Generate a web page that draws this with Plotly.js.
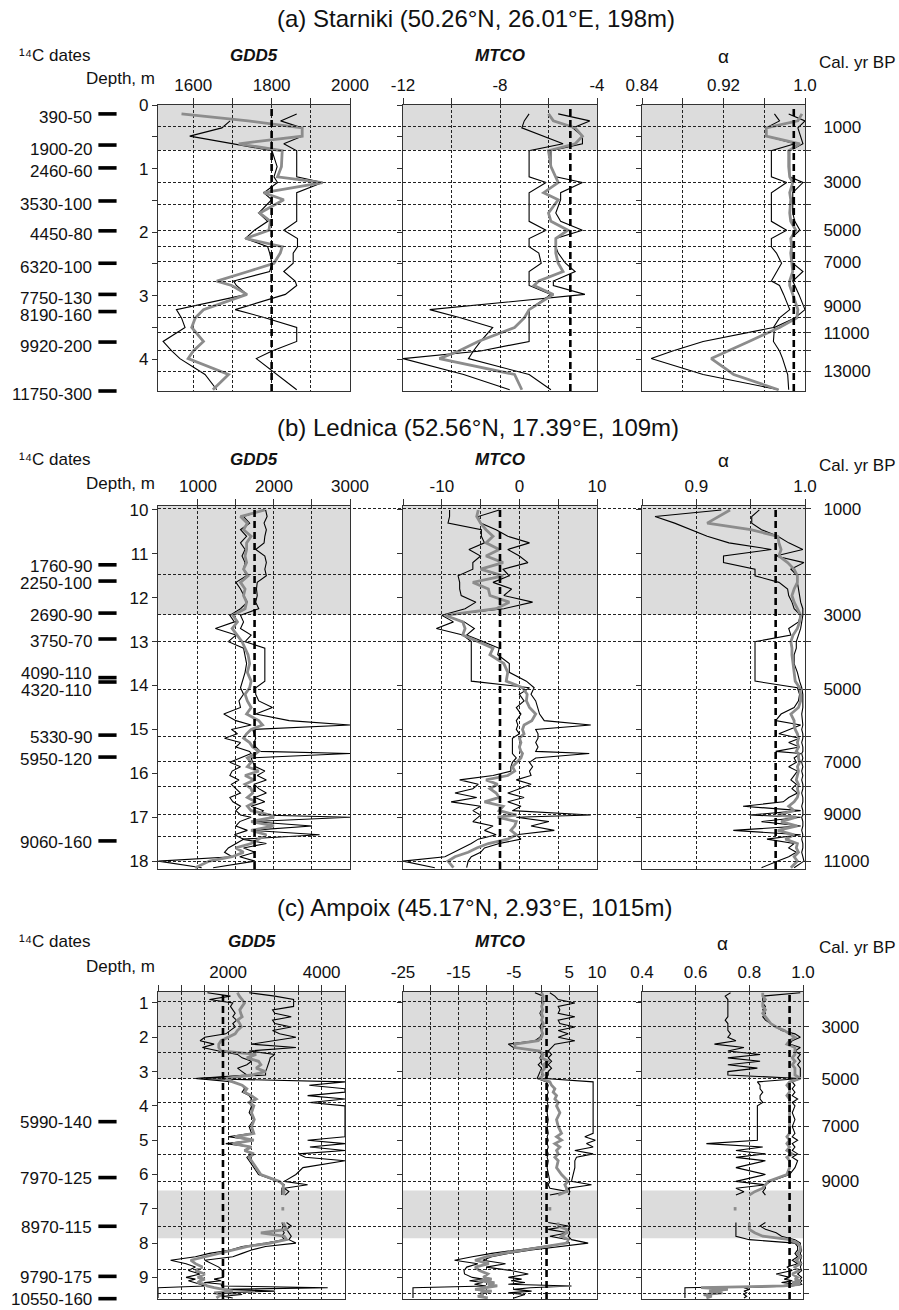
<!DOCTYPE html>
<html><head><meta charset="utf-8">
<script src="https://cdn.plot.ly/plotly-3.0.1.min.js"></script>
<style>html,body{margin:0;padding:0;background:#fff}#chart{width:899px;height:1310px}</style>
</head><body><div id="chart"></div>
<script>
// ================= DATA =================
// ---- (a) Starniki ----
const aDepth = [0.14,0.25,0.36,0.49,0.61,0.72,0.97,1.13,1.22,1.38,1.49,1.7,1.83,1.97,2.1,2.23,2.33,2.49,2.62,2.77,2.84,2.98,3.22,3.35,3.5,3.72,3.87,3.99,4.24,4.48];
const aGDD5_1 = [1864,1823,1878,1878,1831,1864,1864,1864,1930,1864,1864,1864,1864,1831,1866,1866,1855,1855,1831,1860,1864,1835,1707,1785,1864,1864,1801,1761,1812,1864];
const aGDD5_2 = [null,1694,1673,1591,1700,1801,1814,1806,1815,1780,1800,1767,1790,1756,1733,1790,1795,1801,1795,1703,1710,1737,1557,1570,1579,1523,1545,1566,1630,1660];
const aGDD5_m = [1570,1740,1878,1878,1716,1827,1825,1815,1930,1780,1831,1770,1797,1793,1733,1827,1822,1806,1740,1660,1698,1737,1626,1605,1596,1626,1600,1587,1690,1650];
const aMTCO_1 = [-5.6,-4.3,-5.0,-4.6,-4.6,-5.9,-5.9,-5.7,-4.6,-5.5,-5.5,-5.7,-5.5,-4.6,-5.7,-5.7,-5.6,-5.3,-4.9,-5.8,-5.8,-4.5,-10.9,-9.6,-8.3,-8.8,-9.1,-9.3,-6.8,-5.9];
const aMTCO_2 = [-6.8,-7.0,-7.1,-6.2,-5.4,-6.8,-6.8,-6.8,-6.1,-6.8,-6.8,-6.8,-6.8,-6.1,-6.8,-6.8,-6.4,-6.3,-6.8,-6.8,-6.8,-5.9,-6.8,-6.8,-6.8,-6.8,-8.8,-12.0,-9.5,-7.6];
const aMTCO_m = [-6.0,-5.8,-4.9,-4.6,-4.9,-6.0,-5.9,-5.7,-5.6,-6.2,-5.6,-6.0,-5.9,-5.2,-5.7,-5.7,-5.7,-5.6,-5.4,-6.4,-6.6,-5.8,-6.8,-7.0,-7.4,-8.9,-9.7,-10.5,-7.4,-7.1];
const aAlpha_1 = [0.984,1.0,0.993,0.996,0.998,0.985,0.985,0.985,0.998,0.988,0.988,0.988,0.99,0.995,0.986,0.987,0.987,0.988,0.998,0.988,0.99,0.994,1.0,0.99,0.97,0.969,0.975,0.978,0.983,0.984];
const aAlpha_2 = [0.97,0.975,0.962,0.962,0.99,0.967,0.967,0.967,0.982,0.967,0.967,0.967,0.967,0.982,0.967,0.967,0.972,0.977,0.972,0.967,0.975,0.979,0.985,0.975,0.969,0.90,0.87,0.849,0.90,0.974];
const aAlpha_m = [0.997,0.993,0.962,0.962,0.995,0.984,0.984,0.985,0.988,0.985,0.986,0.985,0.986,0.991,0.986,0.987,0.986,0.987,0.988,0.985,0.985,0.988,0.993,0.992,0.975,0.945,0.925,0.908,0.93,0.974];
const aModern = [1800, -5.1, 0.989];
const aBands = [[0, 0.71]];
const aDates = ['390-50','1900-20','2460-60','3530-100','4450-80','6320-100','7750-130','8190-160','9920-200','11750-300'];
const aDateDepth = [0.14,0.63,0.99,1.51,1.98,2.49,2.98,3.25,3.73,4.5];
const aAges = [1000,2000,3000,4000,5000,6000,7000,8000,9000,10000,11000,12000,13000];
const aAgeDepth = [0.346,0.712,1.22,1.565,1.97,2.23,2.47,2.775,3.157,3.35,3.586,3.86,4.19];
const aDepthTicks = [0,1,2,3,4];
const aDepthLabels = ['0','1','2','3','4'];
const aDepthMinor = [0.5,1.5,2.5,3.5];
const aGDD5Ticks = [1600,1800,2000];
const aGDD5Labels = ['1600','1800','2000'];
const aGDD5Minor = [1700,1900];
const aMTCOTicks = [-12,-8,-4];
const aMTCOLabels = ['-12','-8','-4'];
const aMTCOMinor = [-10,-6];
const aAlphaTicks = [0.84,0.92,1.0];
const aAlphaLabels = ['0.84','0.92','1.0'];
const aAlphaMinor = [0.88,0.96];

// ---- (b) Lednica ----
const bDepth = [10.0,10.15,10.3,10.45,10.6,10.75,10.9,11.05,11.2,11.35,11.5,11.65,11.8,11.95,12.1,12.25,12.4,12.55,12.7,12.85,13.0,13.15,13.3,13.5,13.7,13.9,14.05,14.2,14.35,14.5,14.65,14.8,14.9,15.0,15.1,15.2,15.3,15.4,15.5,15.55,15.65,15.75,15.85,15.95,16.05,16.15,16.25,16.35,16.45,16.55,16.65,16.75,16.85,16.95,17.0,17.1,17.2,17.3,17.4,17.5,17.6,17.7,17.8,17.9,18.0,18.15];
const bGDD5_1 = [1890,1910,1870,1900,1880,1870,1760,1880,1900,1880, 1900,1780,1770,1780,1760,1800,1560,1600,1560,1700, 1620,1880,1880,1880,1880,1880,1760,1760,1800,1980, 1760,2200,3000,1720,1740,1760,1740,1760,1820,3000, 1700,1720,1760,1880,1780,1900,1740,1800,1900,1750, 1880,1700,1860,1800,3000,1720,2500,1700,2600,1580, 1900,1600,1750,1550,1750,1200];
const bGDD5_2 = [1870,1600,1680,1560,1640,1560,1620,1580,1620,1600, 1640,1500,1560,1600,1650,1560,1420,1480,1230,1500, 1400,1600,1620,1640,1620,1580,1560,1600,1540,1560, 1340,1500,1700,1440,1520,1350,1560,1500,1680,1700, 1550,1420,1560,1450,1420,1540,1440,1500,1560,1420, 1460,1560,1500,1560,1700,1550,1500,1650,1480,1600, 1500,1400,1350,1450,480,1050];
const bGDD5_m = [1880,1560,1650,1600,1700,1640,1640,1620,1640,1600, 1660,1560,1620,1600,1640,1620,1460,1520,1450,1520, 1580,1620,1660,1680,1650,1700,1680,1620,1650,1700, 1640,1800,1850,1700,1640,1600,1680,1720,1800,1760, 1650,1700,1650,1800,1620,1740,1620,1700,1720,1650, 1760,1650,1700,1950,2000,1700,2000,1700,1900,1800, 1700,1500,1600,1450,1150,965];
const bMTCO_1 = [-2.6,-5.3,-5.0,-3.0,-1.5,1.3,-1.5,0.0,1.1,-2.1, -1.3,-3.4,-1.0,-2.0,1.7,-2.0,-9.6,-7.1,-5.8,-6.8, -4.7,-2.6,-2.8,-1.3,-1.3,0.9,1.9,1.5,2.1,2.4, 2.6,3.2,9.2,2.1,2.4,2.4,2.1,2.4,2.1,9.0, 2.1,1.3,1.7,1.3,1.5,-0.4,1.5,0.0,-1.5,0.6, -1.5,0.2,-0.9,9.2,-0.4,3.8,1.5,4.5,-0.4,0.2, -2.6,-4.5,-5.0,-6.2,-6.6,-6.8];
const bMTCO_2 = [-9.0,-9.0,-9.2,-4.9,-4.9,-4.5,-6.5,-5.0,-6.0,-6.0, -7.9,-7.7,-7.7,-7.5,-5.6,-7.0,-10.0,-8.5,-10.7,-7.3, -6.2,-6.2,-6.2,-6.2,-6.2,-6.2,1.3,0.0,0.6,-0.4, 0.2,-0.4,-0.2,-0.4,0.0,-0.9,-0.9,-0.9,-0.9,-0.9, -0.4,-0.9,-1.1,-1.1,-3.4,-7.7,-5.3,-6.0,-8.3,-5.5, -8.8,-5.0,-6.0,-5.0,-5.3,-6.0,-3.4,-4.5,-3.0,-5.3, -6.2,-7.3,-8.3,-9.6,-15.0,-10.9];
const bMTCO_m = [-5.3,-5.5,-5.0,-4.3,-3.4,-4.3,-2.6,-4.3,-2.1,-5.0, -2.1,-6.0,-4.0,-3.8,-1.3,-3.0,-9.6,-7.3,-7.0,-7.3, -5.3,-3.4,-3.8,-2.0,-1.5,-1.7,0.4,1.0,0.9,1.3, 2.1,1.6,0.6,0.4,0.6,0.0,0.2,0.0,0.2,0.4, 0.2,-0.4,-0.9,-0.6,-1.5,-4.3,-2.8,-3.8,-3.0,-2.6, -4.5,-2.1,-2.6,-0.4,-2.8,-0.4,-0.6,-1.1,-0.4,-1.5, -4.0,-5.5,-6.6,-8.3,-9.2,-8.5];
const bAlpha_1 = [0.958,0.951,0.951,0.960,0.975,0.985,0.998,0.973,0.999,0.987, 0.993,0.993,0.994,0.995,0.996,0.998,0.998,0.997,0.996,0.994, 0.992,0.992,0.990,0.990,0.993,0.995,0.997,0.998,0.998,0.998, 0.997,0.998,0.998,0.997,0.998,0.998,0.997,0.998,0.998,0.997, 0.998,0.997,0.998,0.997,0.998,0.997,0.998,0.998,0.997,0.998, 0.998,0.997,0.998,0.998,0.997,0.998,0.998,0.997,0.998,0.997, 0.998,0.998,0.997,0.998,0.999,0.990];
const bAlpha_2 = [0.923,0.862,0.880,0.895,0.910,0.930,0.969,0.925,0.925,0.954, 0.954,0.976,0.984,0.985,0.988,0.990,0.996,0.994,0.985,0.987, 0.954,0.954,0.954,0.954,0.954,0.954,0.993,0.995,0.994,0.990, 0.978,0.973,0.996,0.985,0.976,0.995,0.985,0.995,0.973,0.996, 0.990,0.992,0.985,0.993,0.990,0.987,0.992,0.988,0.993,0.985, 0.980,0.943,0.996,0.949,0.996,0.960,0.996,0.934,0.996,0.965, 0.990,0.985,0.992,0.985,0.975,0.960];
const bAlpha_m = [0.931,0.920,0.910,0.950,0.975,0.976,0.978,0.976,0.984,0.990, 0.993,0.993,0.990,0.988,0.990,0.993,0.996,0.995,0.993,0.989, 0.987,0.988,0.988,0.989,0.990,0.991,0.995,0.996,0.996,0.994, 0.987,0.990,0.990,0.991,0.993,0.994,0.993,0.994,0.992,0.994, 0.994,0.995,0.993,0.994,0.993,0.992,0.994,0.993,0.994,0.993, 0.990,0.985,0.990,0.975,0.992,0.978,0.993,0.975,0.990,0.982, 0.993,0.992,0.994,0.990,0.993,0.987];
const bModern = [1745, -2.5, 0.973];
const bBands = [[9.91, 12.39]];
const bDates = ['1760-90','2250-100','2690-90','3750-70','4090-110','4320-110','5330-90','5950-120','9060-160'];
const bDateDepth = [11.25,11.62,12.35,12.94,13.82,13.92,15.13,15.63,17.54];
const bAges = [1000,2000,3000,4000,5000,6000,7000,8000,9000,10000,11000];
const bAgeDepth = [9.97,11.46,12.39,12.99,14.08,15.17,15.74,16.29,16.93,17.45,18.0];
const bDepthTicks = [10,11,12,13,14,15,16,17,18];
const bDepthLabels = ['10','11','12','13','14','15','16','17','18'];
const bDepthMinor = [];
const bGDD5Ticks = [1000,2000,3000];
const bGDD5Labels = ['1000','2000','3000'];
const bGDD5Minor = [1500,2500];
const bMTCOTicks = [-10,0,10];
const bMTCOLabels = ['-10','0','10'];
const bMTCOMinor = [-15,-5,5];
const bAlphaTicks = [0.9,1.0];
const bAlphaLabels = ['0.9','1.0'];
const bAlphaMinor = [0.85,0.95];

// ---- (c) Ampoix ----
const cDepth = [0.7,0.8,0.9,1.0,1.1,1.2,1.3,1.4,1.5,1.6, 1.7,1.8,1.9,2.0,2.1,2.2,2.3,2.4,2.5,2.6, 2.7,2.8,2.9,3.0,3.1,3.2,3.3,3.4,3.5,3.6, 3.7,3.8,3.9,4.0, 4.2,4.4,4.6,4.8, 4.9,5.0,5.1,5.2,5.3,5.4,5.5,5.6, 5.8,6.0,6.2, 6.3,6.4,6.5,6.6, 6.8,6.95,7.05,7.2, 7.4,7.5,7.6,7.7,7.8,7.9,8.0,8.1,8.2,8.3,8.4,8.5,8.6,8.7,8.8,8.9, 9.0,9.05,9.1,9.15,9.2,9.25,9.3,9.35,9.4,9.45,9.5,9.55,9.6];
const cGDD5_1 = [2450,3000,3400,3400,3400,2950,3000,3350,2950,3000, 3350,2950,3100,3450,2950,2500,3450,2450,3000,2900, 2880,2860,2830,2800,2800,1307,4500,3736,4500,4500, 3700,4500,3750,4500, 4500,4500,4500,4500, 4500,3700,4500,3750,4500,3500,3650,4500, 3600,3450,3200, 3700,3200,3300,3220, null,null,null,null, 3250,3350,3250,3300,3350,3300,3450,2800,2500,2300,2100,1500,1650,1800,1880,1880, 1900,1700,1850,1500,1880,1850,4130,1900,3000,1800,2300,1900,2100];
const cGDD5_2 = [1557,2050,1600,2100,2050,2100,2150,2100,2180,2100, 2150,2050,1950,1500,1400,1700,1450,1800,2200,2300, 2500,2400,2200,2300,2400,1300,2100,2300,2350,2300, 2450,2500,2450,2500, 2450,2550,2450,2500, 2000,2550,1950,2500,2350,2500,2400,2450, 2550,2650,3050, 3200,3150,3150,3150, null,null,null,null, 3150,3180,3150,3200,3150,3200,2800,2300,2050,1600,1300,770,1100,1300,1150,1400, 1100,1300,1150,1300,1400,1500,500,500,500,500,500,500,500];
const cGDD5_m = [2200,2240,2300,2350,2300,2250,2270,2300,2200,2250, 2280,2200,2150,2000,1850,1800,1800,1850,2600,2400, 2650,2700,2600,2800,2500,1950,2100,2300,2400,2350, 2500,2600,2450,2550, 2500,2560,2500,2550, 2150,2550,2100,2500,2350,2550,2450,2500, 2600,2700,3100, 3180,3180,3200,3180, null,3170,3170,null, 3180,3220,3250,2700,3200,3250,2900,2400,2100,1800,1500,1200,1300,1450,1300,1500, 1350,1500,1400,1350,1500,1550,1700,1900,2100,1700,1900,1800,1750];
const cMTCO_1 = [1.5,2.4,3.0,6.0,3.0,3.3,3.0,6.0,3.0,3.3, 6.0,3.0,4.8,3.0,6.0,2.4,1.8,1.2,1.8,1.2, 1.8,1.2,1.8,1.2,1.2,0.6,9.3,9.3,9.3,9.3, 9.3,9.3,9.3,9.3, 9.3,9.3,9.3,9.3, 7.8,9.7,8.1,9.3,6.0,9.3,6.3,6.0, 6.0,5.7,5.4, 9.0,4.8,5.1,4.8, null,null,null,null, 4.8,5.1,4.8,5.1,4.8,5.4,8.4,3.0,-1.8,-6.0,-9.0,-10.6,-6.5,-10.0,-5.5,-2.4, -6.0,-3.6,-5.5,-3.0,-6.0,5.4,-2.0,-5.0,-1.8,-6.0,-3.0,-4.0,-5.0];
const cMTCO_2 = [-1.2,0.3,0.0,0.0,0.0,0.0,-0.3,0.0,0.0,0.0, -0.3,0.0,0.0,-0.3,-1.2,-6.0,-5.1,-0.6,0.0,-0.3, 0.0,-0.6,0.0,-0.3,-0.6,-0.8,0.9,1.2,1.0,1.2, 1.0,1.2,1.0,1.2, 1.0,1.2,1.0,1.2, 1.0,1.2,1.0,1.2,1.0,1.2,1.0,1.2, 1.0,1.2,1.5, 1.2,1.5,4.8,1.5, null,null,null,null, 1.2,4.8,1.2,4.8,1.5,4.8,4.8,0.0,-4.0,-9.0,-12.5,-15.7,-11.5,-13.5,-14.0,-13.9, -12.5,-10.6,-13.0,-10.6,-12.1,-10.0,-23.2,-23.2,-23.2,-23.2,-23.2,-23.2,-23.2];
const cMTCO_m = [0.0,0.3,0.2,0.3,0.0,0.2,0.0,0.2,0.0,0.3, 0.2,0.0,0.2,0.0,-0.6,-4.8,-4.8,-0.3,0.3,0.0, 1.2,0.3,0.6,0.0,0.3,-0.3,1.5,1.8,2.4,2.1, 2.7,2.4,3.0,2.7, 3.3,2.7,3.0,3.6, 2.7,3.6,2.4,3.3,2.7,3.0,2.4,3.0, 2.7,3.6,4.8, 4.2,4.5,4.5,3.0, null,1.5,1.5,null, 3.0,3.0,4.5,4.5,3.6,4.8,4.5,0.3,-3.0,-7.0,-10.0,-12.0,-9.5,-12.0,-11.2,-9.7, -10.5,-9.0,-11.2,-8.5,-9.7,-8.0,-10.0,-12.0,-9.0,-11.0,-10.5,-11.5,-9.7];
const cAlpha_1 = [0.99,0.85,0.85,0.85,0.86,0.85,0.86,0.85,0.86,0.88, 0.90,0.92,0.97,0.99,0.96,0.95,0.99,0.97,0.99,0.98, 0.99,0.98,0.99,0.99,0.99,0.99,0.96,0.97,0.96,0.97, 0.96,0.98,0.96,0.97, 0.96,0.97,0.96,0.97, 0.96,0.98,0.96,0.97,0.96,0.98,0.96,0.98, 0.97,0.95,0.88, 0.86,0.86,0.85,0.86, null,null,null,null, 0.86,0.84,0.86,0.90,0.92,0.97,0.99,0.99,0.995,0.99,0.995,0.99,0.995,0.99,0.995,0.98, 0.995,0.99,0.995,0.99,0.995,0.96,0.78,0.80,0.78,0.79,0.78,0.79,0.78];
const cAlpha_2 = [0.73,0.71,0.72,0.72,0.72,0.72,0.72,0.72,0.71,0.72, 0.72,0.72,0.73,0.72,0.75,0.67,0.78,0.72,0.84,0.72, 0.84,0.72,0.83,0.72,0.72,0.99,0.83,0.84,0.84,0.85, 0.84,0.84,0.85,0.83, 0.83,0.83,0.83,0.83, 0.83,0.83,0.64,0.85,0.75,0.86,0.75,0.86, 0.75,0.86,0.75, 0.86,0.75,0.78,0.75, null,null,null,null, 0.75,0.75,0.75,0.75,0.75,0.80,0.97,0.98,0.98,0.97,0.98,0.96,0.98,0.94,0.96,0.90, 0.95,0.93,0.96,0.92,0.98,0.90,0.56,0.56,0.56,0.56,0.56,0.56,0.56];
const cAlpha_m = [0.85,0.85,0.86,0.85,0.85,0.86,0.85,0.86,0.87,0.88, 0.90,0.93,0.95,0.97,0.95,0.94,0.97,0.97,0.97,0.96, 0.97,0.96,0.97,0.97,0.97,0.99,0.95,0.94,0.95,0.95, 0.94,0.95,0.95,0.95, 0.95,0.95,0.95,0.95, 0.94,0.95,0.94,0.95,0.94,0.96,0.94,0.95, 0.95,0.94,0.87, 0.86,0.85,0.82,0.80, null,0.747,0.747,null, 0.80,0.80,0.80,0.82,0.85,0.95,0.98,0.99,0.99,0.98,0.99,0.975,0.99,0.97,0.985,0.96, 0.98,0.97,0.99,0.96,0.99,0.93,0.62,0.72,0.65,0.70,0.63,0.66,0.64];
const cModern = [1890, 0.9, 0.95];
const cBands = [[0.68, 3.2], [6.47, 7.86]];
const cDates = ['5990-140','7970-125','8970-115','9790-175','10550-160'];
const cDateDepth = [4.46,6.09,7.51,8.97,9.62];
const cAges = [2000,3000,4000,5000,6000,7000,8000,9000,10000,11000,12000];
const cAgeDepth = [0.97,1.70,2.45,3.21,3.91,4.60,5.42,6.20,7.51,8.76,9.46];
const cDepthTicks = [1,2,3,4,5,6,7,8,9];
const cDepthLabels = ['1','2','3','4','5','6','7','8','9'];
const cDepthMinor = [];
const cGDD5Ticks = [2000,4000];
const cGDD5Labels = ['2000','4000'];
const cGDD5Minor = [500,1000,1500,2500,3000,3500,4500];
const cMTCOTicks = [-25,-15,-5,5,10];
const cMTCOLabels = ['-25','-15','-5','5','10'];
const cMTCOMinor = [-20,-10,0];
const cAlphaTicks = [0.4,0.6,0.8,1.0];
const cAlphaLabels = ['0.4','0.6','0.8','1.0'];
const cAlphaMinor = [];

// ================= LAYOUT CONFIG =================
const W = 899, H = 1310;
const px = v => v / W;
const py = v => 1 - v / H;
const FONT = 'Liberation Sans, Arial, Helvetica, sans-serif';
const TXT = '#111';
const FRAME = '#333';
const GRID = '#222';
const GRIDDASH = '3px,2px';

const panels = [
  { title:'(a) Starniki (50.26°N, 26.01°E, 198m)', top:105, bottom:391, titleY:19, headY:55, calY:62, depthY:79,
    xPix:[[158,350],[403,597],[642,805]], depthRange:[4.5,0], xRanges:[[1510,2000],[-12,-4],[0.84,1.0]],
    depth:aDepth, series:[[aGDD5_1,aGDD5_2,aGDD5_m],[aMTCO_1,aMTCO_2,aMTCO_m],[aAlpha_1,aAlpha_2,aAlpha_m]],
    modern:aModern, bands:aBands, tv:[aGDD5Ticks,aMTCOTicks,aAlphaTicks], tt:[aGDD5Labels,aMTCOLabels,aAlphaLabels],
    tm:[aGDD5Minor,aMTCOMinor,aAlphaMinor],
    dTicks:aDepthTicks, dLabels:aDepthLabels, dMinor:aDepthMinor, ages:aAges, ageDepth:aAgeDepth, dates:aDates, dateDepth:aDateDepth, dateShift:-4 },
  { title:'(b) Lednica (52.56°N, 17.39°E, 109m)', top:506, bottom:869, titleY:427, headY:459, calY:465, depthY:483,
    xPix:[[158,350],[403,597],[642,805]], depthRange:[18.18,9.91], xRanges:[[475,3000],[-15,10],[0.85,1.0]],
    depth:bDepth, series:[[bGDD5_1,bGDD5_2,bGDD5_m],[bMTCO_1,bMTCO_2,bMTCO_m],[bAlpha_1,bAlpha_2,bAlpha_m]],
    modern:bModern, bands:bBands, tv:[bGDD5Ticks,bMTCOTicks,bAlphaTicks], tt:[bGDD5Labels,bMTCOLabels,bAlphaLabels],
    tm:[bGDD5Minor,bMTCOMinor,bAlphaMinor],
    dTicks:bDepthTicks, dLabels:bDepthLabels, dMinor:bDepthMinor, ages:bAges, ageDepth:bAgeDepth, dates:bDates, dateDepth:bDateDepth, dateShift:-2 },
  { title:'(c) Ampoix (45.17°N, 2.93°E, 1015m)', top:992, bottom:1299, titleY:907, headY:941, calY:947, depthY:966,
    xPix:[[158,345],[403,597],[642,803]], depthRange:[9.63,0.68], xRanges:[[500,4500],[-25,10],[0.4,1.0]],
    depth:cDepth, series:[[cGDD5_1,cGDD5_2,cGDD5_m],[cMTCO_1,cMTCO_2,cMTCO_m],[cAlpha_1,cAlpha_2,cAlpha_m]],
    modern:cModern, bands:cBands, tv:[cGDD5Ticks,cMTCOTicks,cAlphaTicks], tt:[cGDD5Labels,cMTCOLabels,cAlphaLabels],
    tm:[cGDD5Minor,cMTCOMinor,cAlphaMinor],
    dTicks:cDepthTicks, dLabels:cDepthLabels, dMinor:cDepthMinor, ages:cAges, ageDepth:cAgeDepth, dates:cDates, dateDepth:cDateDepth, dateShift:-1 }
];
const varTitles = ['<b><i>GDD5</i></b>', '<b><i>MTCO</i></b>', 'α'];

const data = [], shapes = [], annotations = [];
const layout = {
  width: W, height: H, autosize: false,
  margin: {l:0, r:0, t:0, b:0},
  paper_bgcolor: '#fff', plot_bgcolor: 'rgba(0,0,0,0)',
  showlegend: false,
  font: {family: FONT, size: 17, color: TXT}
};
const id = (l, n) => n === 1 ? l : l + n;
const key = (l, n) => (n === 1 ? l + 'axis' : l + 'axis' + n);
const minorSpec = (vals, len, grid) => ({tickmode:'array', tickvals:vals, ticks: vals.length ? 'outside' : '',
  ticklen:len, tickcolor:FRAME, showgrid:grid, gridcolor:GRID, gridwidth:1, griddash:GRIDDASH});
const bareAxis = (domain, anchor) => ({domain, anchor, range:[0,1], showline:false, ticks:'', showticklabels:false,
  showgrid:false, zeroline:false, fixedrange:true});

function ann(text, x, y, xanchor, extra) {
  annotations.push(Object.assign({text, xref:'paper', yref:'paper', x, y, xanchor, yanchor:'middle',
    showarrow:false, font:{family:FONT, size:17, color:TXT}}, extra || {}));
}

panels.forEach((P, p) => {
  const yDom = [py(P.bottom), py(P.top)];
  for (let v = 0; v < 3; v++) {
    const n = 3*p + v + 1;
    const xid = id('x', n), yid = id('y', n);
    const [s1, s2, sm] = P.series[v];
    [[s1,'#000',1.1],[s2,'#000',1.1],[sm,'#8c8c8c',2.8]].forEach(([s,c,w]) => {
      data.push({type:'scatter', mode:'lines', x:s, y:P.depth, xaxis:xid, yaxis:yid,
        line:{color:c, width:w}, connectgaps:false, hoverinfo:'skip'});
    });
    layout[key('x', n)] = {
      domain:[px(P.xPix[v][0]), px(P.xPix[v][1])], anchor:yid, side:'top', range:P.xRanges[v],
      tickmode:'array', tickvals:P.tv[v], ticktext:P.tt[v], ticks:'outside', ticklen:6, tickcolor:FRAME,
      minor: minorSpec(P.tm[v], 6, true),
      showline:true, linecolor:FRAME, linewidth:1.2, mirror:true,
      showgrid:true, gridcolor:GRID, gridwidth:1, griddash:GRIDDASH, zeroline:false,
      tickfont:{family:FONT, size:17, color:TXT}, fixedrange:true
    };
    layout[key('y', n)] = {
      domain:yDom, anchor:xid, range:P.depthRange,
      tickmode:'array', tickvals:P.dTicks, ticktext:P.dLabels, showticklabels: v === 0,
      ticks:'outside', ticklen:5, tickcolor:FRAME,
      minor: minorSpec(P.dMinor, 5, false),
      showline:true, linecolor:FRAME, linewidth:1.2, mirror:true,
      showgrid:false, zeroline:false, tickfont:{family:FONT, size:17, color:TXT}, fixedrange:true
    };
    P.bands.forEach(b => shapes.push({type:'rect', xref:xid + ' domain', x0:0, x1:1, yref:yid, y0:b[0], y1:b[1],
      fillcolor:'#dcdcdc', line:{width:0}, layer:'below'}));
    shapes.push({type:'line', xref:xid, yref:yid + ' domain', x0:P.modern[v], x1:P.modern[v], y0:0, y1:1,
      line:{color:'#000', width:2.6, dash:'7px,4px'}, layer:'above'});
    const cx = px((P.xPix[v][0] + P.xPix[v][1]) / 2);
    if (v === 2) ann('α', cx, py(P.headY + 2), 'center', {font:{family:FONT, size:19, color:TXT}});
    else ann(varTitles[v], cx, py(P.headY), 'center');
  }
  // age axis spanning all three subplots (right side); labels on odd thousands
  const an = 10 + p;
  const odd = P.ages.map(a => (a / 1000) % 2 === 1);
  layout[key('x', an)] = bareAxis([px(P.xPix[0][0]), px(P.xPix[2][1])], id('y', an));
  layout[key('y', an)] = {
    domain:yDom, anchor:id('x', an), side:'right', range:P.depthRange,
    tickmode:'array', tickvals:P.ageDepth.filter((d,i) => odd[i]), ticktext:P.ages.filter((a,i) => odd[i]).map(String),
    ticks:'outside', ticklen:5, tickcolor:FRAME, ticklabelstandoff:9,
    minor: minorSpec(P.ageDepth.filter((d,i) => !odd[i]), 5, true),
    showline:false, showgrid:true, gridcolor:GRID, gridwidth:1, griddash:GRIDDASH, zeroline:false,
    tickfont:{family:FONT, size:17, color:TXT}, fixedrange:true
  };
  data.push({type:'scatter', mode:'lines', x:[null], y:[null], xaxis:id('x', an), yaxis:id('y', an), hoverinfo:'skip'});

  // 14C dates column
  const dn = 13 + p;
  const gddY = id('y', 3*p + 1);
  layout[key('x', dn)] = bareAxis([0, 0.15], gddY);
  data.push({type:'scatter', mode:'markers', x:P.dates.map(() => 0.797), y:P.dateDepth, xaxis:id('x', dn), yaxis:gddY,
    marker:{symbol:'line-ew', size:13, color:'#000', line:{width:3.6, color:'#000'}}, cliponaxis:false, hoverinfo:'skip'});
  const pxPerM = (P.bottom - P.top) / Math.abs(P.depthRange[0] - P.depthRange[1]);
  P.dates.forEach((d, i) => {
    let shift = P.dateShift;
    if (i + 1 < P.dates.length && Math.abs(P.dateDepth[i+1] - P.dateDepth[i]) * pxPerM < 12) shift += 6;
    if (i > 0 && Math.abs(P.dateDepth[i] - P.dateDepth[i-1]) * pxPerM < 12) shift -= 6;
    annotations.push({text:d, xref:'paper', yref:gddY, x:px(94), y:P.dateDepth[i], xanchor:'right', yanchor:'middle',
      yshift:shift, showarrow:false, font:{family:FONT, size:17, color:TXT}});
  });

  ann(P.title, px(275), py(P.titleY), 'left', {font:{family:FONT, size:24, color:TXT}});
  ann('¹⁴C dates', px(17), py(P.headY), 'left');
  ann('Depth, m', px(157), py(P.depthY), 'right');
  ann('Cal. yr BP', px(817), py(P.calY), 'left');
});

layout.shapes = shapes;
layout.annotations = annotations;
Plotly.newPlot('chart', data, layout, {staticPlot:true, displayModeBar:false});
</script>
</body></html>
